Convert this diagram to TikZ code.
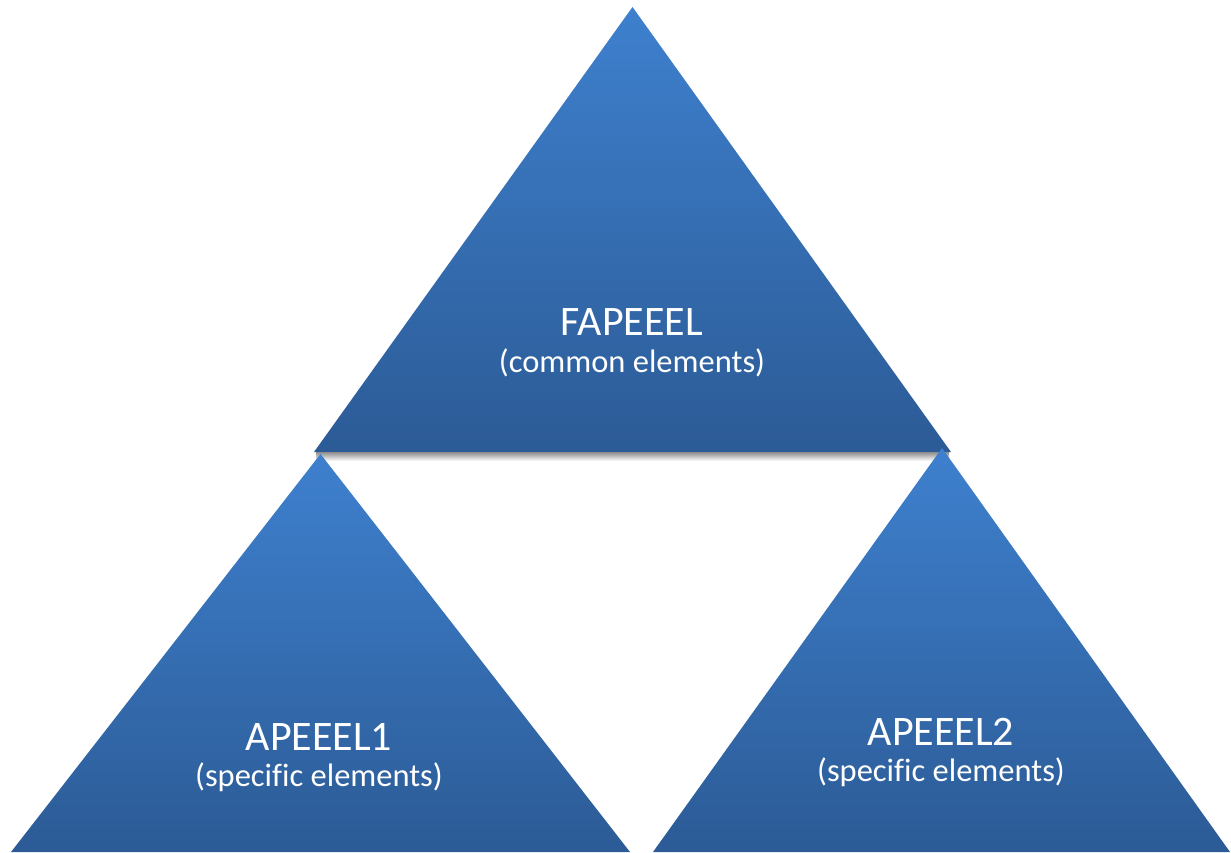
\documentclass[tikz,border=0pt]{standalone}
\usepackage{fontspec}
\setmainfont[Ligatures=NoCommon]{Carlito}
\begin{document}
\begin{tikzpicture}[x=1pt,y=-1pt,
  tri/.style={top color=triTop, bottom color=triBottom, draw=none},
  title/.style={text=white, font=\fontsize{42}{42}\selectfont, anchor=base, inner sep=0pt},
  sub/.style={text=white, font=\fontsize{32.5}{32.5}\selectfont, anchor=base, inner sep=0pt}]
\definecolor{triTop}{HTML}{3E80CE}
\definecolor{triBottom}{HTML}{2C5B96}
\useasboundingbox (0,0) rectangle (1231,852);
\clip (0,0) rectangle (1231,852);

% upper triangle
\shade[tri] (632.5,7) -- (951,452) -- (314,452) -- cycle;
% soft shadow under its base
\shade[top color=black!45, bottom color=white] (316,452) rectangle (949,461);

% lower triangles
\shade[tri] (320.5,454) -- (630,852) -- (11,852) -- cycle;
\shade[tri] (942,448) -- (1230,852) -- (653,852) -- cycle;

% labels
\node[title] (fTitle) at (632,335) {FAPEEEL};
\node[sub] (fSub) at (632,372) {(common elements)};
\node[title] (aTitle) at (319,750) {APEEEL1};
\node[sub] (aSub) at (319,786) {(specific elements)};
\node[title] (bTitle) at (941,745) {APEEEL2};
\node[sub] (bSub) at (941,781) {(specific elements)};
\end{tikzpicture}
\end{document}
